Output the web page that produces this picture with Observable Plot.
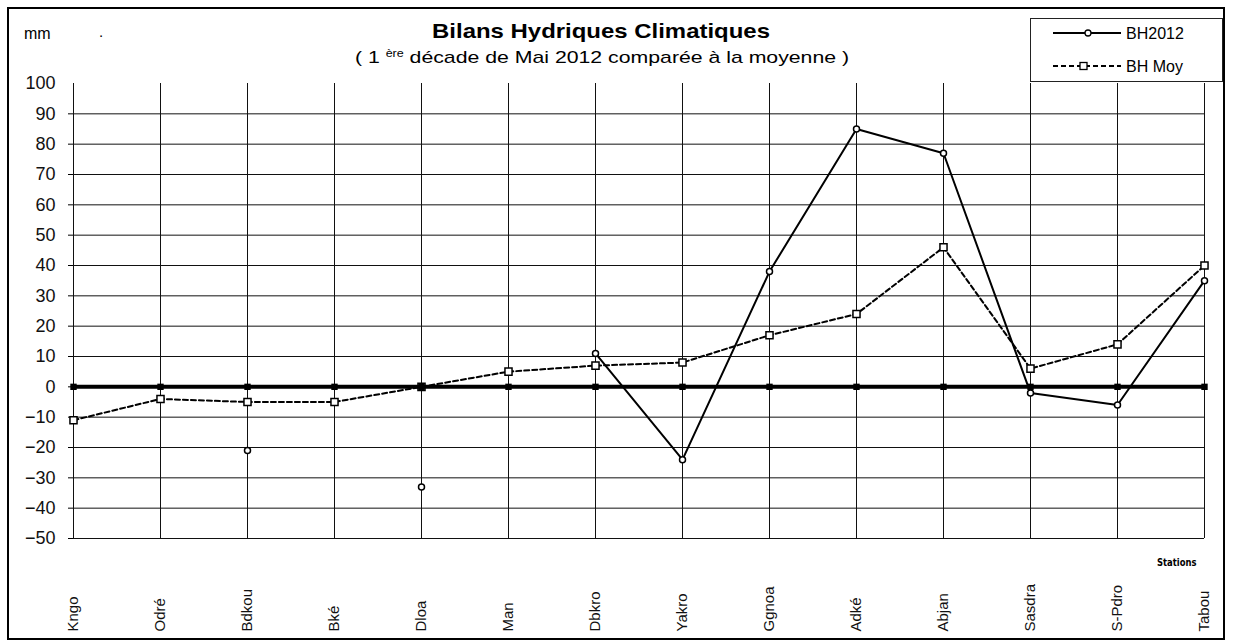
<!DOCTYPE html>
<html><head><meta charset="utf-8">
<script src="https://cdn.jsdelivr.net/npm/d3@7"></script>
<script src="https://cdn.jsdelivr.net/npm/@observablehq/plot@0.6"></script>
<style>
body{margin:0;background:#fff;font-family:"Liberation Sans",Arial,sans-serif;color:#000}
#wrap{position:relative;width:1233px;height:644px;overflow:hidden}
#chart{position:absolute;left:0;top:0}
.abs{position:absolute;white-space:nowrap}
#frame{position:absolute;left:7px;top:7px;width:1218px;height:633px;border:2px solid #000;box-sizing:border-box}
#title{left:601px;top:19px;font-weight:bold;font-size:21px;transform:translateX(-50%) scaleX(1.14);}
#subtitle{left:602px;top:48px;font-size:17px;transform:translateX(-50%) scaleX(1.25);}
#subtitle sup{font-size:10px;vertical-align:6px}
#mm{left:24px;top:25px;font-size:16px}
#dot{left:99px;top:23px;font-size:15px}
#legend{position:absolute;left:1030px;top:18px;width:193px;height:64px;border:1.5px solid #222;box-sizing:border-box;background:#fff}
#stations{left:1157px;top:556px;font-size:11px;font-weight:bold;font-family:"DejaVu Sans Condensed","DejaVu Sans",sans-serif;transform:scaleX(0.85);transform-origin:left}
</style></head><body>
<div id="wrap">
  <div id="chart"></div>
  <div id="frame"></div>
  <div class="abs" id="mm">mm</div>
  <div class="abs" id="dot">.</div>
  <div class="abs" id="title">Bilans Hydriques Climatiques</div>
  <div class="abs" id="subtitle">( 1 <sup>ère</sup> décade de Mai 2012 comparée à la moyenne )</div>
  <div id="legend">
    <svg width="190" height="62" style="position:absolute;left:0;top:0">
      <line x1="22" x2="90" y1="14" y2="14" stroke="#000" stroke-width="2"/>
      <circle cx="57" cy="14" r="3" fill="#fff" stroke="#000" stroke-width="1.3"/>
      <text x="95" y="14" dy="0.35em" font-size="16" font-family="Liberation Sans, Arial, sans-serif">BH2012</text>
      <line x1="22" x2="90" y1="47" y2="47" stroke="#000" stroke-width="2" stroke-dasharray="5,3"/>
      <rect x="49" y="43.5" width="7" height="7" fill="#fff" stroke="#000" stroke-width="1.3"/>
      <text x="95" y="47" dy="0.35em" font-size="16" font-family="Liberation Sans, Arial, sans-serif">BH Moy</text>
    </svg>
  </div>
  <div class="abs" id="stations">Stations</div>
</div>
<script>
const stations = ["Kngo","Odré","Bdkou","Bké","Dloa","Man","Dbkro","Yakro","Ggnoa","Adké","Abjan","Sasdra","S-Pdro","Tabou"];
const bh2012 = [null, null, -21, null, -33, null, 11, -24, 38, 85, 77, -2, -6, 35];
const bhMoy = [-11, -4, -5, -5, 0, 5, 7, 8, 17, 24, 46, 6, 14, 40];
const baseline = [0, 0, 0, 0, 0, 0, 0, 0, 0, 0, 0, 0, 0, 0];
const yTicks = [-50, -40, -30, -20, -10, 0, 10, 20, 30, 40, 50, 60, 70, 80, 90, 100];
const gridTicks = [-50, -40, -30, -20, -10, 10, 20, 30, 40, 50, 60, 70, 80, 90];

const rows = stations.map((s, i) => ({station: s, bh2012: bh2012[i], bhMoy: bhMoy[i], base: baseline[i]}));

const chart = Plot.plot({
  width: 1233,
  height: 644,
  marginLeft: 73,
  marginRight: 29,
  marginTop: 83,
  marginBottom: 106,
  style: {fontFamily: "'Liberation Sans', Arial, sans-serif", background: "transparent", color: "#000"},
  x: {type: "point", domain: stations, padding: 0, axis: null},
  y: {domain: [-50, 100], axis: null},
  marks: [
    Plot.ruleY(gridTicks, {stroke: "#111", strokeWidth: 1}),
    Plot.ruleX(stations, {stroke: "#111", strokeWidth: 1}),
    Plot.axisY({ticks: yTicks.slice(0, -1), tickSize: 5, text: null, stroke: "#000", strokeWidth: 1}),
    Plot.axisY({ticks: yTicks, tickSize: 0, tickPadding: 18, fontSize: 18, fill: "#111"}),
    Plot.text(stations, {x: d => d, frameAnchor: "bottom", dy: 93, rotate: -90, textAnchor: "start", lineAnchor: "middle", fontSize: 15, fill: "#111"}),
    Plot.lineY(rows, {x: "station", y: "bh2012", stroke: "#000", strokeWidth: 2, curve: "linear"}),
    Plot.dot(rows.filter(d => d.bh2012 != null), {x: "station", y: "bh2012", symbol: "circle", r: 3, fill: "#fff", stroke: "#000", strokeWidth: 1.5}),
    Plot.lineY(rows, {x: "station", y: "bhMoy", stroke: "#000", strokeWidth: 2, strokeDasharray: "5,3"}),
    Plot.dot(rows, {x: "station", y: "bhMoy", symbol: "square", r: 4, fill: "#fff", stroke: "#000", strokeWidth: 1.5}),
    Plot.ruleY(baseline.slice(0, 1), {stroke: "#000", strokeWidth: 4}),
    Plot.dot(rows, {x: "station", y: "base", symbol: "square", r: 3.6, fill: "#000", stroke: "none"})
  ]
});
document.getElementById("chart").appendChild(chart);
</script>
</body></html>
